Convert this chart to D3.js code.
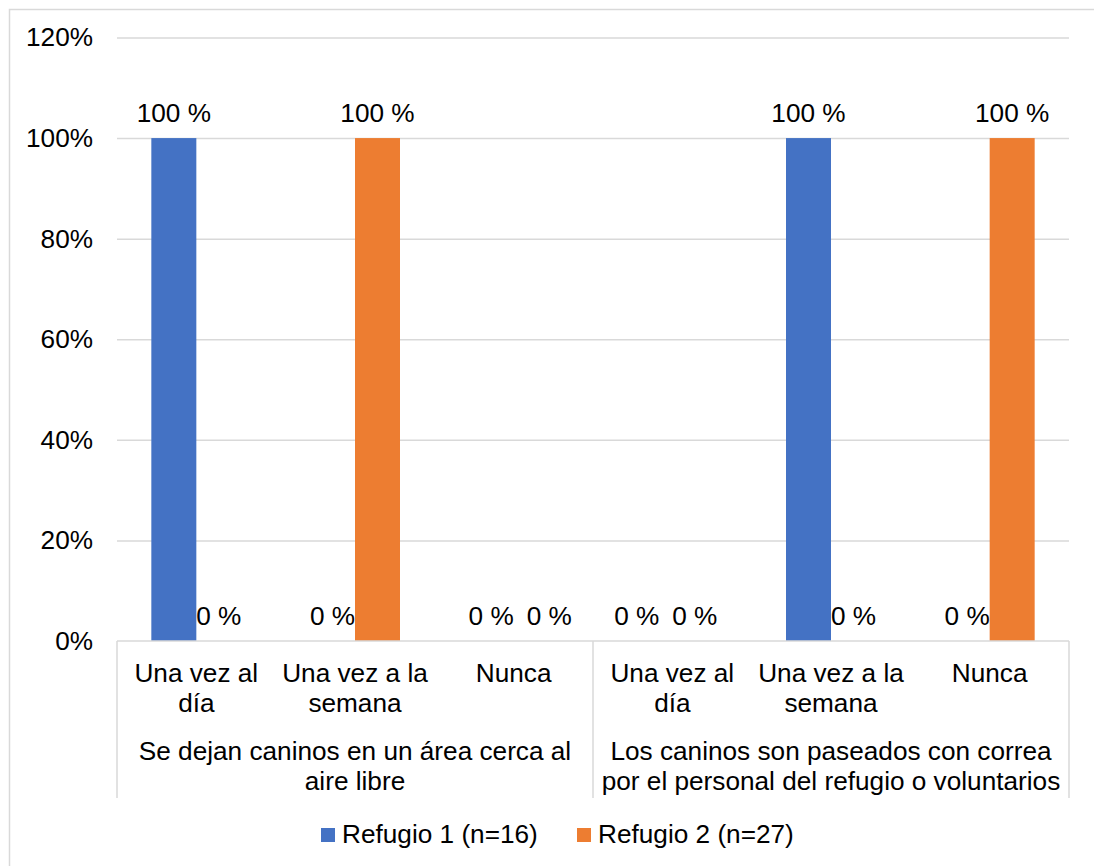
<!DOCTYPE html>
<html>
<head>
<meta charset="utf-8">
<script src="https://cdn.jsdelivr.net/npm/d3@7"></script>
<style>
  body { margin: 0; background: #fff; }
  svg text { font-family: "Liberation Sans", Arial, sans-serif; fill: #000; }
</style>
</head>
<body>
<svg id="chart"></svg>
<script>
// data
const groups = [
  ["Se dejan caninos en un área cerca al", "aire libre"],
  ["Los caninos son paseados con correa", "por el personal del refugio o voluntarios"]
];
const categories = [
  ["Una vez al", "día"],
  ["Una vez a la", "semana"],
  ["Nunca"],
  ["Una vez al", "día"],
  ["Una vez a la", "semana"],
  ["Nunca"]
];
const seriesNames = ["Refugio 1 (n=16)", "Refugio 2 (n=27)"];
const refugio1 = [100, 0, 0, 0, 100, 0];
const refugio2 = [0, 100, 0, 0, 0, 100];
const yTicks = [0, 20, 40, 60, 80, 100, 120];

let width = 1094 // outer width, in pixels
let height = 866 // outer height, in pixels
let marginLeft = 117
let marginRight = 25
let yTop = 37.5 // y of 120%
let yBottom = 641 // y of 0%
let fontSize = 26.2
let colors = ["#4472C4", "#ED7D31"]
let gridColor = "#D9D9D9"

const series = [refugio1, refugio2];

const svg = d3.select("#chart")
  .attr("width", width)
  .attr("height", height)
  .attr("viewBox", [0, 0, width, height]);

// chart border (runs off the right and bottom edge)
svg.append("rect")
  .attr("x", 9.5).attr("y", 9.5)
  .attr("width", width + 20).attr("height", height + 20)
  .attr("fill", "none")
  .attr("stroke", gridColor)
  .attr("stroke-width", 1.5);

// scales
const x = d3.scaleBand()
  .domain(d3.range(categories.length))
  .range([marginLeft, width - marginRight])
  .paddingInner(0).paddingOuter(0);
const barW = 45;
const xSub = d3.scaleBand()
  .domain(d3.range(series.length))
  .range([x.bandwidth() / 2 - barW, x.bandwidth() / 2 + barW]);
const y = d3.scaleLinear().domain([0, 120]).range([yBottom, yTop]);

// gridlines + y tick labels
const yAxis = d3.axisLeft(y)
  .tickValues(yTicks)
  .tickFormat(d => d + "%")
  .tickSize(0)
  .tickPadding(24);
svg.append("g")
  .attr("transform", `translate(${marginLeft},0)`)
  .call(yAxis)
  .call(g => g.select(".domain").remove())
  .call(g => g.selectAll(".tick text")
    .attr("font-size", fontSize)
    .attr("font-family", "Liberation Sans, Arial, sans-serif")
    .attr("fill", "#000"))
  .call(g => g.selectAll(".tick").filter(d => d !== 0).append("line")
    .attr("x2", x.range()[1] - marginLeft)
    .attr("stroke", gridColor)
    .attr("stroke-width", 1.5));

// bars
const cat = svg.append("g").selectAll("g")
  .data(categories)
  .join("g")
  .attr("transform", (d, i) => `translate(${x(i)},0)`);

series.forEach((vals, s) => {
  cat.append("rect")
    .attr("x", xSub(s))
    .attr("width", xSub.bandwidth())
    .attr("y", (d, i) => y(vals[i]))
    .attr("height", (d, i) => y(0) - y(vals[i]))
    .attr("fill", colors[s]);
});

// data labels; labels sitting side by side get pushed apart
// (the one nearer the middle of the chart moves, as Excel does)
const midX = (x.range()[0] + x.range()[1]) / 2;
const labelGap = 13;
categories.forEach((c, i) => {
  const labels = series.map((vals, s) => ({
    v: vals[i],
    cx: xSub(s) + xSub.bandwidth() / 2,
    cy: y(vals[i]) - 16
  }));
  const t = cat.filter((d, j) => j === i).selectAll("text.lbl")
    .data(labels)
    .join("text")
    .attr("class", "lbl")
    .attr("text-anchor", "middle")
    .attr("font-size", fontSize)
    .attr("y", d => d.cy)
    .text(d => d.v + " %");
  const w = t.nodes().map(n => n.getComputedTextLength());
  if (labels[0].cy === labels[1].cy) {
    const need = (w[0] + w[1]) / 2 + labelGap - (labels[1].cx - labels[0].cx);
    if (need > 0) {
      if (x(i) + x.bandwidth() / 2 < midX) labels[1].cx += need;
      else labels[0].cx -= need;
    }
  }
  t.attr("x", d => d.cx);
});

// category axis line
svg.append("line")
  .attr("x1", x.range()[0]).attr("x2", x.range()[1])
  .attr("y1", yBottom).attr("y2", yBottom)
  .attr("stroke", gridColor)
  .attr("stroke-width", 1.5);

// category labels
cat.append("text")
  .attr("text-anchor", "middle")
  .attr("font-size", fontSize)
  .selectAll("tspan")
  .data(d => d)
  .join("tspan")
  .attr("x", x.bandwidth() / 2)
  .attr("y", (d, i) => 682 + i * 30)
  .text(d => d);

// group separators
const perGroup = categories.length / groups.length;
const sepX = d3.range(groups.length + 1).map(g => x.range()[0] + g * perGroup * x.bandwidth());
svg.append("g").selectAll("line")
  .data(sepX)
  .join("line")
  .attr("x1", d => d).attr("x2", d => d)
  .attr("y1", yBottom).attr("y2", 798)
  .attr("stroke", gridColor)
  .attr("stroke-width", 1.5);

// group labels
svg.append("g").selectAll("text")
  .data(groups)
  .join("text")
  .attr("text-anchor", "middle")
  .attr("font-size", fontSize)
  .selectAll("tspan")
  .data((d, g) => d.map(t => ({t, g})))
  .join("tspan")
  .attr("x", d => (sepX[d.g] + sepX[d.g + 1]) / 2)
  .attr("y", (d, i) => 760 + i * 30)
  .text(d => d.t);

// legend
const legendX = [321, 577];
const legend = svg.append("g").selectAll("g")
  .data(seriesNames)
  .join("g")
  .attr("transform", (d, i) => `translate(${legendX[i]},828)`);
legend.append("rect")
  .attr("width", 14).attr("height", 14)
  .attr("fill", (d, i) => colors[i]);
legend.append("text")
  .attr("x", 21).attr("y", 15)
  .attr("font-size", fontSize)
  .text(d => d);
</script>
</body>
</html>
